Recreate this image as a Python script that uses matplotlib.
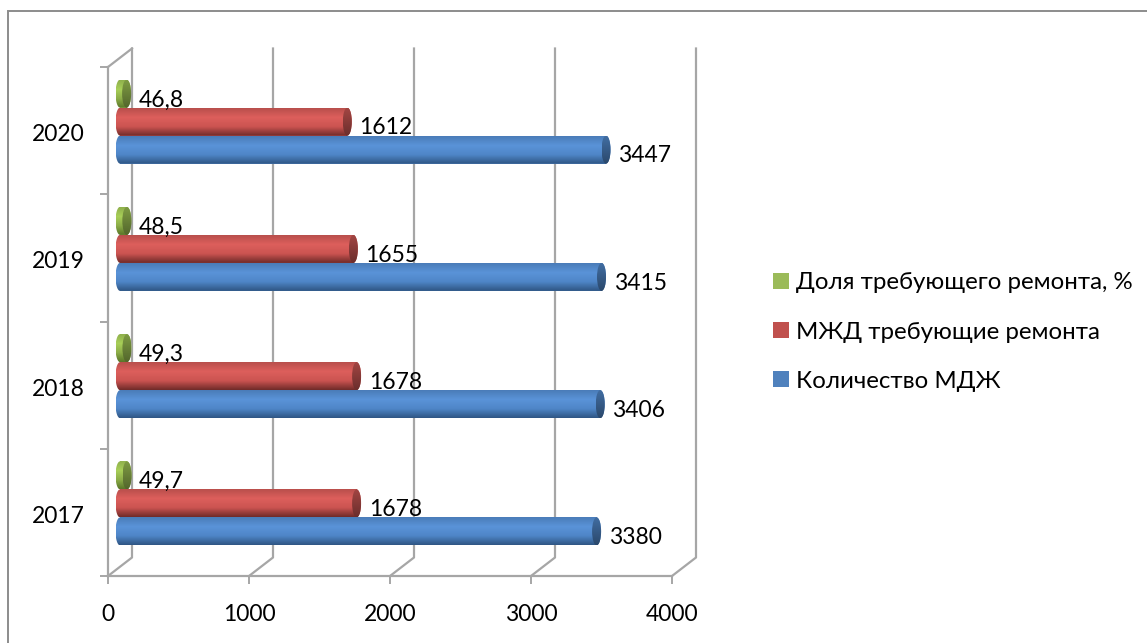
from __future__ import annotations

import matplotlib

matplotlib.use("Agg")

import matplotlib.pyplot as plt
import numpy as np
from matplotlib.colors import LinearSegmentedColormap
from matplotlib.patches import Ellipse, PathPatch, Rectangle
from matplotlib.path import Path

YEARS = ["2017", "2018", "2019", "2020"]
TOTAL = [3380, 3406, 3415, 3447]
NEED_REPAIR = [1678, 1678, 1655, 1612]
SHARE = [49.7, 49.3, 48.5, 46.8]
SERIES_NAMES = ["Количество МДЖ", "МЖД требующие ремонта", "Доля требующего ремонта, %"]
X_TICKS = [0, 1000, 2000, 3000, 4000]

W, H = 1147, 643
FONT = ["Lato", "Noto Sans", "DejaVu Sans"]
GREY = "#a6a6a6"

# flat colour, then top / light band / shadow of the cylinder
BLUE = ("#4f81bd", ["#4a7cb8", "#5a93d8", "#4f86c8", "#2f5684"])
RED = ("#c0504d", ["#b84f4c", "#dd5f5c", "#cb5451", "#702b29"])
GREEN = ("#9bbb59", ["#8fb04c", "#a8cf58", "#8cad48", "#5a7629"])


def main() -> None:
    plt.rcParams["font.family"] = FONT
    fig = plt.figure(figsize=(W / 100, H / 100), dpi=100)
    # front plane of the fake 3d box, pixels
    ax = fig.add_axes([108 / W, 1 - 576 / H, 564 / W, 509 / H])
    ax.set_xlim(0, 4000)
    ax.set_ylim(0, 4)
    ax.patch.set_alpha(0)
    px_x = 4000 / 564
    px_y = 4 / 509

    depth_x, depth_y = 24 * px_x, 18.5 * px_y
    bar_off_x, bar_off_y = 12 * px_x, 9 * px_y
    bar_h = 28 * px_y
    cap = 4.5 * px_x

    # picture frame, runs off the right and bottom edges
    fig.add_artist(Rectangle((8 / W, -0.02), 1.1, 1.02 - 10.5 / H, transform=fig.transFigure,
                             fill=False, edgecolor="#8c8c8c", linewidth=1.4))

    # walls and gridlines behind the bars
    for tick in X_TICKS:
        ax.plot([tick, tick + depth_x, tick + depth_x], [0, depth_y, 4 + depth_y],
                color=GREY, linewidth=1.6, clip_on=False, zorder=1)
    ax.plot([0, depth_x], [4, 4 + depth_y], color=GREY, linewidth=1.6, clip_on=False, zorder=1)

    ax.spines[["top", "right"]].set_visible(False)
    ax.spines[["left", "bottom"]].set_color(GREY)
    ax.spines[["left", "bottom"]].set_linewidth(1.6)
    ax.set_xticks(X_TICKS)
    ax.set_yticks(range(5))
    ax.set_yticklabels([])
    # minor ticks only carry the year labels, nudged 2 px down
    ax.set_yticks(np.arange(4) + 0.5 - 2 * px_y, labels=YEARS, minor=True)
    ax.tick_params(axis="both", which="major", color=GREY, width=1.4, length=6)
    ax.tick_params(axis="x", labelsize=16.5, pad=14)
    ax.tick_params(axis="y", which="minor", length=0, labelsize=16.5, pad=17)

    ypos = np.arange(4) + 0.5 + bar_off_y
    groups = [
        (TOTAL, ypos - bar_h, BLUE, SERIES_NAMES[0]),
        (NEED_REPAIR, ypos, RED, SERIES_NAMES[1]),
        (SHARE, ypos + bar_h, GREEN, SERIES_NAMES[2]),
    ]
    handles = {}
    for values, y, (flat, stops), name in groups:
        bars = ax.barh(y, values, left=bar_off_x, height=bar_h, color=flat, label=name, zorder=2)
        handles[name] = bars
        cmap = LinearSegmentedColormap.from_list(name, stops)
        dark = LinearSegmentedColormap.from_list(name + "_cap", [stops[0], "#000000"])
        shade = np.linspace(0, 1, 64).reshape(-1, 1)
        for val, yc in zip(values, y):
            x0, x1 = bar_off_x, bar_off_x + val
            y0, y1 = yc - bar_h / 2, yc + bar_h / 2
            t = np.linspace(-np.pi / 2, np.pi / 2, 30)
            xs = np.r_[x1 + cap * np.cos(t), x0 - cap * np.cos(t[::-1])]
            ys = np.r_[yc + bar_h / 2 * np.sin(t), yc + bar_h / 2 * np.sin(t[::-1])]
            body = PathPatch(Path(np.c_[xs, ys]), transform=ax.transData, facecolor="none", edgecolor="none")
            ax.add_patch(body)
            im = ax.imshow(shade, cmap=cmap, extent=(x0 - cap, x1 + cap, y0, y1), aspect="auto",
                           origin="upper", zorder=3)
            im.set_clip_path(body)
            end = Ellipse((x1, yc), 2 * cap, bar_h, transform=ax.transData, facecolor="none", edgecolor="none")
            ax.add_patch(end)
            im2 = ax.imshow(shade * 0.3 + 0.12, cmap=dark, vmin=0, vmax=1,
                            extent=(x1 - cap, x1 + cap, y0, y1), aspect="auto", origin="upper", zorder=4)
            im2.set_clip_path(end)
            label = f"{val}".replace(".", ",")
            ax.annotate(label, (x1 + cap, yc), xytext=(5.5, -4.5), textcoords="offset points",
                        ha="left", va="center", fontsize=16.5, color="black", zorder=6, annotation_clip=False)

    ax.set_xlim(0, 4000)
    ax.set_ylim(0, 4)

    order = [SERIES_NAMES[2], SERIES_NAMES[1], SERIES_NAMES[0]]
    fig.legend([handles[n][0] for n in order], order, loc="center left",
               bbox_to_anchor=(766 / W, 1 - 332 / H), frameon=False, fontsize=17.3,
               handlelength=0.65, handleheight=0.65, handletextpad=0.3, labelspacing=1.17,
               borderpad=0.3, borderaxespad=0)

    fig.savefig("out.png", dpi=100)
    plt.close(fig)


if __name__ == "__main__":
    main()
